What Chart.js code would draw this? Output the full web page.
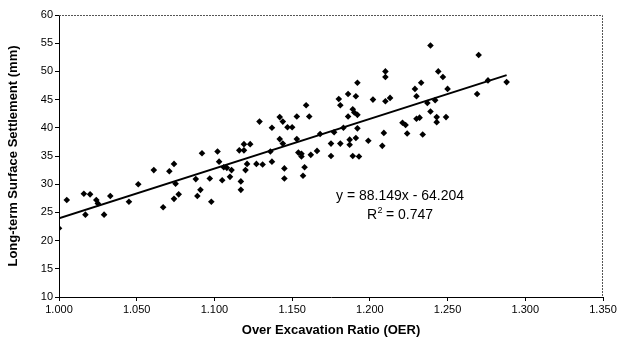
<!DOCTYPE html>
<html>
<head>
<meta charset="utf-8">
<script src="https://cdn.jsdelivr.net/npm/chart.js@4/dist/chart.umd.min.js"></script>
<style>
  body { margin: 0; background: #fff; }
  #chart { display: block; }
</style>
</head>
<body>
<canvas id="chart" width="631" height="346"></canvas>
<script>
// Over excavation ratio vs long-term settlement
const oerValues = [
  1.000, 1.005, 1.016, 1.020, 1.017, 1.024, 1.025, 1.029, 1.033, 1.045,
  1.051, 1.061, 1.067, 1.071, 1.074, 1.075, 1.077, 1.074, 1.088, 1.092,
  1.091, 1.089, 1.098, 1.097, 1.102, 1.103, 1.105, 1.106, 1.108, 1.111,
  1.110, 1.116, 1.119, 1.119, 1.123, 1.117, 1.117, 1.120, 1.121, 1.129,
  1.127, 1.131, 1.137, 1.137, 1.136, 1.142, 1.144, 1.147, 1.150, 1.142,
  1.144, 1.145, 1.145, 1.153, 1.153, 1.154, 1.156, 1.156, 1.159, 1.161,
  1.158, 1.157, 1.162, 1.166, 1.168, 1.175, 1.175, 1.177, 1.180, 1.181,
  1.181, 1.183, 1.186, 1.186, 1.187, 1.187, 1.189, 1.190, 1.192, 1.192,
  1.191, 1.189, 1.193, 1.192, 1.191, 1.199, 1.202, 1.208, 1.209, 1.210,
  1.213, 1.210, 1.210, 1.221, 1.223, 1.224, 1.229, 1.230, 1.233, 1.234,
  1.230, 1.232, 1.239, 1.237, 1.242, 1.239, 1.243, 1.244, 1.247, 1.250,
  1.243, 1.249, 1.270, 1.269, 1.276, 1.288
];
const settlementValues = [
  22.2, 27.2, 28.3, 28.2, 24.6, 27.2, 26.6, 24.6, 27.9, 26.9,
  30.0, 32.5, 25.9, 32.3, 33.6, 30.1, 28.2, 27.4, 30.9, 35.5,
  29.0, 27.9, 26.9, 31.0, 35.8, 34.0, 30.7, 33.0, 32.9, 32.5,
  31.3, 36.0, 36.0, 37.1, 37.1, 30.5, 29.0, 32.5, 33.6, 41.1,
  33.6, 33.5, 40.0, 34.0, 35.8, 41.9, 41.1, 40.1, 40.1, 38.0,
  37.2, 32.8, 31.0, 42.0, 38.0, 35.6, 35.4, 34.9, 44.0, 42.0,
  33.0, 31.5, 35.2, 35.9, 38.9, 37.2, 35.0, 39.2, 45.1, 44.0,
  37.2, 40.0, 46.0, 42.0, 37.9, 37.0, 43.3, 42.7, 42.3, 39.9,
  38.2, 35.0, 34.9, 48.0, 45.6, 37.7, 45.0, 36.8, 39.1, 44.7,
  45.3, 50.0, 49.0, 40.9, 40.5, 39.0, 46.9, 45.6, 48.0, 38.8,
  41.6, 41.8, 54.6, 44.4, 44.9, 42.9, 41.0, 50.0, 49.0, 46.9,
  41.9, 41.9, 52.9, 46.0, 48.4, 48.1
];

// linear trendline from the figure
const slope = 88.149;
const intercept = -64.204;
const trendRange = [1.0, 1.288];

const points = oerValues.map((x, i) => ({ x: x, y: settlementValues[i] }));
const trend = trendRange.map(x => ({ x: x, y: slope * x + intercept }));

const frameAndLabel = {
  id: 'frameAndLabel',
  afterDraw(chart) {
    const { ctx, chartArea, scales } = chart;
    ctx.save();
    // dotted frame on top and right
    ctx.strokeStyle = '#555';
    ctx.lineWidth = 1;
    ctx.setLineDash([2, 1]);
    ctx.beginPath();
    ctx.moveTo(chartArea.left, chartArea.top + 0.5);
    ctx.lineTo(chartArea.right - 0.5, chartArea.top + 0.5);
    ctx.lineTo(chartArea.right - 0.5, chartArea.bottom);
    ctx.stroke();
    ctx.setLineDash([]);

    // regression equation
    const cx = scales.x.getPixelForValue(1.2194);
    const cy = scales.y.getPixelForValue(27.8);
    const f = '14px "Liberation Sans", Arial, sans-serif';
    ctx.fillStyle = '#000';
    ctx.font = f;
    ctx.textAlign = 'center';
    ctx.textBaseline = 'middle';
    ctx.fillText('y = 88.149x - 64.204', cx, cy);
    ctx.textAlign = 'left';
    const rw = ctx.measureText('R').width;
    const rest = ctx.measureText(' = 0.747').width;
    const total = rw + 5 + rest;
    const rx = cx - total / 2;
    const ry = cy + 19;
    ctx.fillText('R', rx, ry);
    ctx.fillText(' = 0.747', rx + rw + 5, ry);
    ctx.font = '9px "Liberation Sans", Arial, sans-serif';
    ctx.fillText('2', rx + rw + 0.5, ry - 5);
    ctx.restore();
  }
};

const tickFont = { family: '"Liberation Sans", Arial, sans-serif', size: 11 };
const titleFont = { family: '"Liberation Sans", Arial, sans-serif', size: 13, weight: 'bold' };

new Chart(document.getElementById('chart').getContext('2d'), {
  type: 'scatter',
  data: {
    datasets: [
      {
        label: 'Settlement',
        data: points,
        pointStyle: 'rectRot',
        pointRadius: 3.3,
        backgroundColor: '#000',
        borderColor: '#000',
        borderWidth: 0
      },
      {
        label: 'Trend',
        type: 'line',
        data: trend,
        borderColor: '#000',
        borderWidth: 2,
        pointRadius: 0,
        fill: false
      }
    ]
  },
  options: {
    responsive: false,
    animation: false,
    layout: { padding: { top: 15, right: 28, left: 6, bottom: 8 } },
    plugins: {
      legend: { display: false },
      tooltip: { enabled: false }
    },
    scales: {
      x: {
        type: 'linear',
        min: 1.0,
        max: 1.35,
        afterFit: s => { s.height = 41; },
        ticks: {
          stepSize: 0.05,
          color: '#000',
          font: tickFont,
          padding: 2,
          maxRotation: 0,
          callback: v => v.toFixed(3)
        },
        grid: { drawOnChartArea: false, drawTicks: true, tickLength: 4, color: '#000' },
        border: { display: true, color: '#000', width: 1 },
        title: {
          display: true,
          text: 'Over Excavation Ratio (OER)',
          color: '#000',
          font: titleFont,
          padding: { top: 6, bottom: 0 }
        }
      },
      y: {
        min: 10,
        max: 60,
        afterFit: s => { s.width = 53; },
        ticks: { stepSize: 5, color: '#000', font: tickFont, padding: 2 },
        grid: { drawOnChartArea: false, drawTicks: true, tickLength: 4, color: '#000' },
        border: { display: true, color: '#000', width: 1 },
        title: {
          display: true,
          text: 'Long-term Surface Settlement (mm)',
          color: '#000',
          font: titleFont,
          padding: { top: 0, bottom: 6 }
        }
      }
    }
  },
  plugins: [frameAndLabel]
});
</script>
</body>
</html>
